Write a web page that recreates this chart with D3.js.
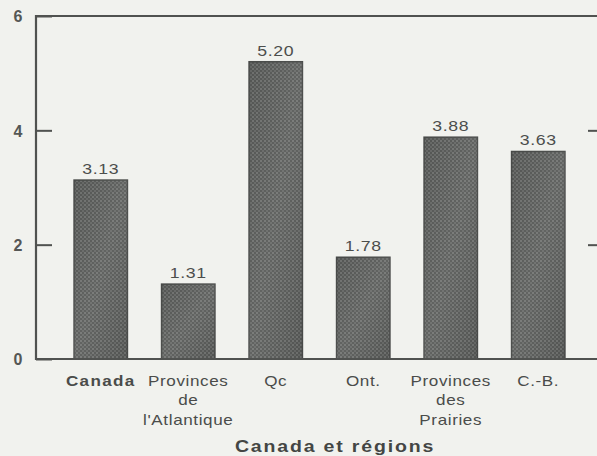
<!DOCTYPE html>
<html><head><meta charset="utf-8">
<script src="https://cdn.jsdelivr.net/npm/d3@7"></script>
<style>
html,body{margin:0;padding:0;background:#f1f2ee;}
svg{display:block;}
text{font-family:"Liberation Sans",Arial,Helvetica,sans-serif;}
</style></head><body>
<svg id="c" width="597" height="456"></svg>
<script>
const categories = ["Canada", "Provinces de l'Atlantique", "Qc", "Ont.", "Provinces des Prairies", "C.-B."];
const categoryLines = [["Canada"], ["Provinces", "de", "l'Atlantique"], ["Qc"], ["Ont."], ["Provinces", "des", "Prairies"], ["C.-B."]];
const values = [3.13, 1.31, 5.20, 1.78, 3.88, 3.63];
const valueLabels = ["3.13", "1.31", "5.20", "1.78", "3.88", "3.63"];
const yTicks = [0, 2, 4, 6];
const xTitle = "Canada et régions";

const svg = d3.select("#c");
const axisX = 36, rightX = 597;
const y = d3.scaleLinear().domain([0, 6]).range([359, 16]);
const x = d3.scaleBand().domain(categories).range([57, 582]).paddingInner(0.39).paddingOuter(0.195);
const SX = 1.22; // horizontal stretch of the scanned lettering
const ink = "#505250";

// pattern for stippled bars
const defs = svg.append("defs");
const pat = defs.append("pattern").attr("id", "dots").attr("patternUnits", "userSpaceOnUse")
  .attr("width", 4).attr("height", 4);
pat.append("rect").attr("width", 4).attr("height", 4).attr("fill", "#585a58");
pat.append("circle").attr("cx", 1).attr("cy", 1).attr("r", 0.75).attr("fill", "#9c9e9b");
pat.append("circle").attr("cx", 3).attr("cy", 3).attr("r", 0.75).attr("fill", "#868885");
const grad = defs.append("linearGradient").attr("id", "shade").attr("x1", 0).attr("y1", 0).attr("x2", 1).attr("y2", 1);
grad.append("stop").attr("offset", "0%").attr("stop-color", "#000").attr("stop-opacity", 0.05);
grad.append("stop").attr("offset", "50%").attr("stop-color", "#fff").attr("stop-opacity", 0.06);
grad.append("stop").attr("offset", "100%").attr("stop-color", "#000").attr("stop-opacity", 0.08);

// bars
const bars = svg.append("g");
bars.selectAll("rect.bar").data(categories).join("rect").attr("class", "bar")
  .attr("x", d => x(d)).attr("width", x.bandwidth())
  .attr("y", (d, i) => y(values[i])).attr("height", (d, i) => y(0) - y(values[i]))
  .attr("fill", "url(#dots)").attr("stroke", "#4a4c4a").attr("stroke-width", 1.5);
bars.selectAll("rect.shade").data(categories).join("rect").attr("class", "shade")
  .attr("x", d => x(d)).attr("width", x.bandwidth())
  .attr("y", (d, i) => y(values[i])).attr("height", (d, i) => y(0) - y(values[i]))
  .attr("fill", "url(#shade)");

// helper: stretched text
function stext(g, cx, cy) {
  return g.append("text").attr("transform", `translate(${cx},${cy}) scale(${SX},1)`)
    .attr("x", 0).attr("y", 0).attr("text-anchor", "middle");
}

// value labels
const vl = svg.append("g");
categories.forEach((c, i) => {
  stext(vl, x(c) + x.bandwidth() / 2, y(values[i]) - 6)
    .attr("font-size", 14.5).attr("letter-spacing", 0.5).attr("fill", "#4c4e4c").text(valueLabels[i]);
});

// frame lines
const frame = svg.append("g").attr("stroke", ink).attr("stroke-width", 2.2).attr("fill", "none");
frame.append("line").attr("x1", axisX).attr("x2", axisX).attr("y1", y(6) - 1).attr("y2", y(0) + 1);
frame.append("line").attr("x1", axisX - 1).attr("x2", rightX).attr("y1", y(6)).attr("y2", y(6));
frame.append("line").attr("x1", axisX - 1).attr("x2", rightX).attr("y1", y(0)).attr("y2", y(0));

// left axis ticks via d3 axis
const yAxis = d3.axisRight(y).tickValues(yTicks).tickSize(16).tickFormat(d3.format("d")).tickPadding(0);
const ga = svg.append("g").attr("transform", `translate(${axisX},0)`).call(yAxis);
ga.select(".domain").remove();
ga.selectAll(".tick line").attr("stroke", ink).attr("stroke-width", 2);
ga.selectAll(".tick text").attr("x", -18).attr("text-anchor", "middle").attr("dy", "0.36em")
  .attr("font-size", 16).attr("font-weight", "bold").attr("fill", "#555755")
  .style("font-family", "'Liberation Sans',Arial,sans-serif");

// right side ticks
const gr = svg.append("g").attr("transform", `translate(${rightX},0)`)
  .call(d3.axisLeft(y).tickValues([2, 4]).tickSize(9).tickFormat(""));
gr.select(".domain").remove();
gr.selectAll(".tick line").attr("stroke", ink).attr("stroke-width", 2);

// category labels
const cl = svg.append("g");
categories.forEach((c, i) => {
  const t = stext(cl, x(c) + x.bandwidth() / 2, 386)
    .attr("font-size", 14).attr("fill", "#4a4c4a")
    .attr("letter-spacing", i === 0 ? 1.1 : 0.5)
    .attr("font-weight", i === 0 ? "bold" : "normal");
  categoryLines[i].forEach((ln, j) => {
    t.append("tspan").attr("x", 0).attr("dy", j === 0 ? 0 : 19.5).text(ln);
  });
});

// axis title
stext(svg, 335, 452).attr("font-size", 16).attr("font-weight", "bold").attr("letter-spacing", 1.5)
  .attr("fill", "#444644").text(xTitle);
</script>
</body></html>
